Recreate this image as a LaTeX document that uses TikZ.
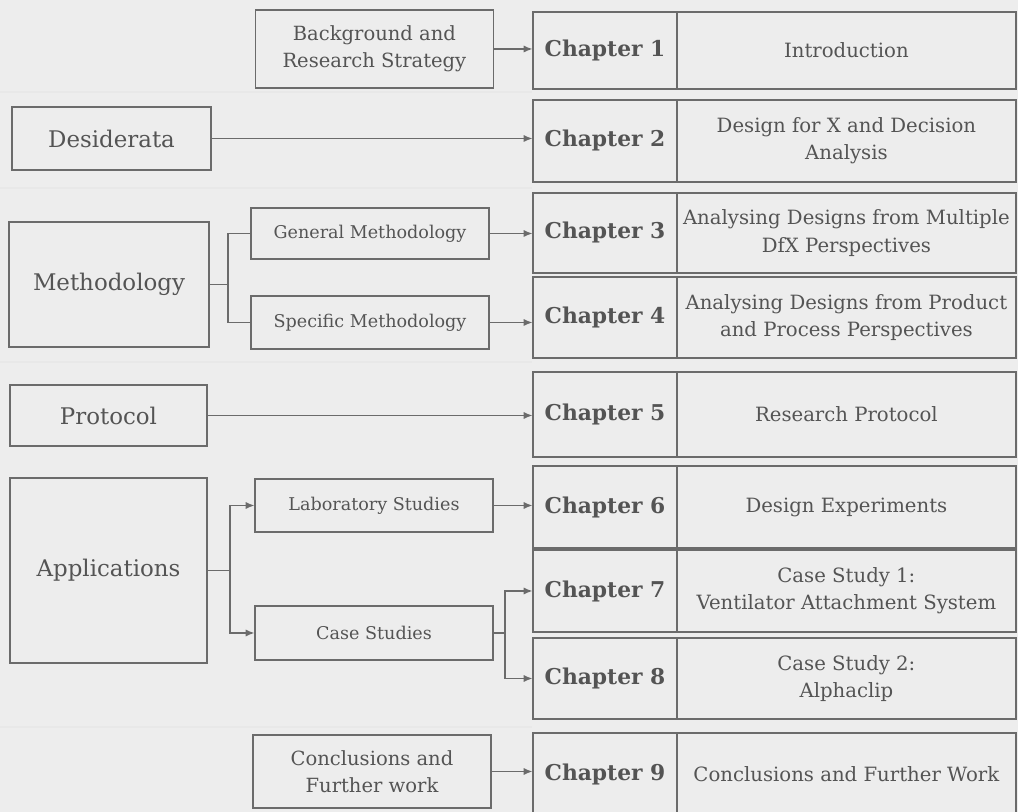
\documentclass[tikz,border=0pt]{standalone}
\usepackage{fontspec}
\setmainfont{DejaVu Serif}
\usetikzlibrary{arrows.meta}
\definecolor{pagegrey}{gray}{0.93}
\definecolor{boxline}{gray}{0.42}
\definecolor{boxtext}{gray}{0.33}
\tikzset{
    plainbox/.style={draw=boxline, line width=0.9pt, text=boxtext, align=center, inner sep=2pt},
    sidebox/.style={plainbox, font=\fontsize{16.3}{19}\selectfont},
    stepbox/.style={plainbox, minimum width=5.95cm, font=\fontsize{12.5}{19}\selectfont},
    chapbox/.style={plainbox, minimum width=3.6cm, font=\bfseries\fontsize{15.5}{18}\selectfont},
    titlebox/.style={plainbox, minimum width=8.475cm, font=\fontsize{14}{19.5}\selectfont},
    linkarrow/.style={-{Latex[length=2.2mm,width=1.8mm]}, draw=boxline, thick},
    linkline/.style={-, draw=boxline, thick},
    scanline/.style={draw=gray!18, line width=1.2pt}
}

\begin{document}
\begin{tikzpicture}
    \useasboundingbox (0,0) rectangle (25.45,20.3);
    \fill[pagegrey] (0,0) rectangle (25.45,20.3);
    \draw[scanline] (0,18.0) -- (13.3,18.0);
    \draw[scanline] (0,15.6) -- (13.3,15.6);
    \draw[scanline] (0,11.25) -- (13.3,11.25);
    \draw[scanline] (0,2.125) -- (13.3,2.125);

    \node[chapbox, minimum height=1.925cm] (c1) at (15.125,19.04) {Chapter 1};
    \node[titlebox, minimum height=1.925cm] (t1) at (21.16,19.04) {Introduction};
    \node[chapbox, minimum height=2.05cm] (c2) at (15.125,16.775) {Chapter 2};
    \node[titlebox, minimum height=2.05cm] (t2) at (21.16,16.775) {Design for X and Decision\\Analysis};
    \node[chapbox, minimum height=2.0cm] (c3) at (15.125,14.475) {Chapter 3};
    \node[titlebox, minimum height=2.0cm] (t3) at (21.16,14.475) {Analysing Designs from Multiple\\DfX Perspectives};
    \node[chapbox, minimum height=2.025cm] (c4) at (15.125,12.3625) {Chapter 4};
    \node[titlebox, minimum height=2.025cm] (t4) at (21.16,12.3625) {Analysing Designs from Product\\and Process Perspectives};
    \node[chapbox, minimum height=2.125cm] (c5) at (15.125,9.9375) {Chapter 5};
    \node[titlebox, minimum height=2.125cm] (t5) at (21.16,9.9375) {Research Protocol};
    \node[chapbox, minimum height=2.05cm] (c6) at (15.125,7.625) {Chapter 6};
    \node[titlebox, minimum height=2.05cm] (t6) at (21.16,7.625) {Design Experiments};
    \node[chapbox, minimum height=2.05cm] (c7) at (15.125,5.525) {Chapter 7};
    \node[titlebox, minimum height=2.05cm] (t7) at (21.16,5.525) {Case Study 1:\\Ventilator Attachment System};
    \node[chapbox, minimum height=2.025cm] (c8) at (15.125,3.3375) {Chapter 8};
    \node[titlebox, minimum height=2.025cm] (t8) at (21.16,3.3375) {Case Study 2:\\Alphaclip};
    \node[chapbox, minimum height=2.075cm] (c9) at (15.125,0.9375) {Chapter 9};
    \node[titlebox, minimum height=2.075cm] (t9) at (21.16,0.9375) {Conclusions and Further Work};

    \node[stepbox, minimum height=1.95cm, font=\fontsize{13.9}{19}\selectfont] (bg) at (9.36,19.075) {Background and\\Research Strategy};
    \node[sidebox, minimum width=4.975cm, minimum height=1.575cm] (desid) at (2.7875,16.8375) {Desiderata};
    \node[sidebox, minimum width=5.0cm, minimum height=3.125cm] (meth) at (2.725,13.1875) {Methodology};
    \node[stepbox, minimum height=1.275cm] (gen) at (9.25,14.4625) {General Methodology};
    \node[stepbox, minimum height=1.325cm] (spec) at (9.25,12.2375) {Specific Methodology};
    \node[sidebox, minimum width=4.925cm, minimum height=1.525cm] (prot) at (2.7125,9.9125) {Protocol};
    \node[sidebox, minimum width=4.925cm, minimum height=4.625cm] (apps) at (2.7125,6.0375) {Applications};
    \node[stepbox, minimum height=1.325cm] (lab) at (9.35,7.6625) {Laboratory Studies};
    \node[stepbox, minimum height=1.35cm] (case) at (9.35,4.475) {Case Studies};
    \node[stepbox, minimum height=1.825cm, font=\fontsize{13.9}{19}\selectfont] (conc) at (9.3,1.0125) {Conclusions and\\Further work};

    \coordinate (mj) at (5.7,13.1875);
    \coordinate (aj) at (5.75,6.0375);
    \coordinate (cj) at (12.625,4.475);

    \draw[linkarrow] (bg.east) -- (bg.east -| c1.west);
    \draw[linkarrow] (desid.east) -- (desid.east -| c2.west);
    \draw[linkline] (meth.east) -- (mj);
    \draw[linkline] (gen.west) -| (mj) |- (spec.west);
    \draw[linkarrow] (gen.east) -- (gen.east -| c3.west);
    \draw[linkarrow] (spec.east) -- (spec.east -| c4.west);
    \draw[linkarrow] (prot.east) -- (prot.east -| c5.west);
    \draw[linkline] (apps.east) -- (aj);
    \draw[linkarrow] (aj) |- (lab.west);
    \draw[linkarrow] (aj) |- (case.west);
    \draw[linkarrow] (lab.east) -- (lab.east -| c6.west);
    \draw[linkline] (case.east) -- (cj);
    \draw[linkarrow] (cj) |- (c7.west);
    \draw[linkarrow] (cj) |- (c8.west);
    \draw[linkarrow] (conc.east) -- (conc.east -| c9.west);
\end{tikzpicture}
\end{document}
